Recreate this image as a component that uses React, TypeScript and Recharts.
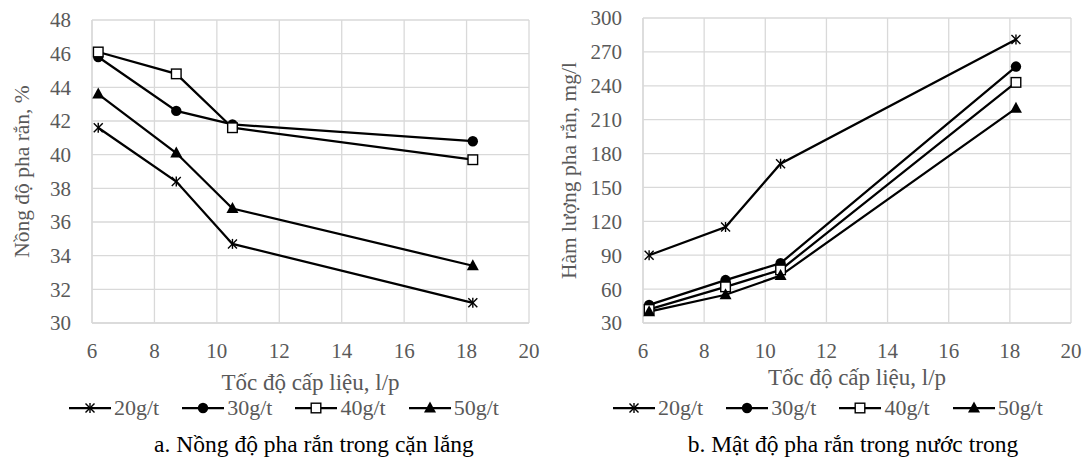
import { LineChart, Line, XAxis, YAxis, CartesianGrid, Legend, Label } from "recharts";

const SERIES = ["20g/t", "30g/t", "40g/t", "50g/t"];
const MARKERS = ["star", "circle", "square", "triangle"];
const X_TICKS = [6, 8, 10, 12, 14, 16, 18, 20];

// a. concentration of solids in the sediment, %
const FEED_A = [6.2, 8.7, 10.5, 18.2];
const CONC_20 = [41.6, 38.4, 34.7, 31.2];
const CONC_30 = [45.8, 42.6, 41.8, 40.8];
const CONC_40 = [46.1, 44.8, 41.6, 39.7];
const CONC_50 = [43.6, 40.1, 36.8, 33.4];
const CONC_TICKS = [30, 32, 34, 36, 38, 40, 42, 44, 46, 48];

// b. solids content in the clear water, mg/l
const FEED_B = [6.2, 8.7, 10.5, 18.2];
const SOLID_20 = [90, 115, 171, 281];
const SOLID_30 = [46, 68, 83, 257];
const SOLID_40 = [42, 62, 77, 243];
const SOLID_50 = [40, 55, 72, 220];
const SOLID_TICKS = [30, 60, 90, 120, 150, 180, 210, 240, 270, 300];

const FONT = "'Liberation Serif', 'Times New Roman', serif";
const GREY = "#595959";
const TICK_STYLE = { fill: GREY, fontSize: 21, fontFamily: FONT };

function toRows(xs: number[], series: number[][]) {
  return xs.map((x, i) => {
    const row: Record<string, number> = { x };
    series.forEach((vals, j) => {
      row[SERIES[j]] = vals[i];
    });
    return row;
  });
}

const dataA = toRows(FEED_A, [CONC_20, CONC_30, CONC_40, CONC_50]);
const dataB = toRows(FEED_B, [SOLID_20, SOLID_30, SOLID_40, SOLID_50]);

function Marker({ kind, cx, cy }: { kind: string; cx: number; cy: number }) {
  if (kind === "star") {
    return (
      <g stroke="#000" strokeWidth={1.4}>
        <line x1={cx - 4.5} y1={cy - 4.5} x2={cx + 4.5} y2={cy + 4.5} />
        <line x1={cx - 4.5} y1={cy + 4.5} x2={cx + 4.5} y2={cy - 4.5} />
        <line x1={cx} y1={cy - 5} x2={cx} y2={cy + 5} />
      </g>
    );
  }
  if (kind === "circle") return <circle cx={cx} cy={cy} r={5.2} fill="#000" />;
  if (kind === "square")
    return <rect x={cx - 4.8} y={cy - 4.8} width={9.6} height={9.6} fill="#fff" stroke="#000" strokeWidth={1.4} />;
  return <polygon points={`${cx},${cy - 6.5} ${cx + 6},${cy + 4.5} ${cx - 6},${cy + 4.5}`} fill="#000" />;
}

function LegendRow() {
  return (
    <div style={{ display: "flex", gap: 22, fontFamily: FONT, fontSize: 22, color: GREY, whiteSpace: "nowrap", lineHeight: "24px" }}>
      {SERIES.map((name, i) => (
        <div key={name} style={{ display: "flex", alignItems: "center" }}>
          <svg width={44} height={14}>
            <line x1={1} y1={7} x2={43} y2={7} stroke="#000" strokeWidth={2.25} />
            <Marker kind={MARKERS[i]} cx={22} cy={7} />
          </svg>
          <span style={{ marginLeft: 2 }}>{name}</span>
        </div>
      ))}
    </div>
  );
}

type PanelProps = {
  data: Record<string, number>[];
  yDomain: [number, number];
  yTicks: number[];
  yTitle: string;
  yTitleX: number;
  xTitleOffset: number;
  caption: string;
  plotLeft: number;
  plotRight: number;
  plotTop: number;
  legendLeft: number;
  captionCenter: number;
};

const W = 544;
const H = 462;
const PLOT_BOTTOM = 323;
const XAXIS_H = 70;

function Panel(p: PanelProps) {
  return (
    <div style={{ position: "relative", width: W, height: H, fontFamily: FONT }}>
      <LineChart
        width={W}
        height={H}
        data={p.data}
        style={{ fontFamily: FONT }}
        margin={{ top: p.plotTop, right: W - p.plotRight, left: 0, bottom: H - PLOT_BOTTOM - XAXIS_H }}
      >
        <CartesianGrid stroke="#d9d9d9" strokeWidth={1.3} horizontal vertical />
        <XAxis
          dataKey="x"
          type="number"
          domain={[6, 20]}
          ticks={X_TICKS}
          height={XAXIS_H}
          axisLine={{ stroke: "#d9d9d9", strokeWidth: 1.3 }}
          tickLine={false}
          tickSize={0}
          tickMargin={20}
          tick={TICK_STYLE}
          style={{ fontFamily: FONT }}
        >
          <Label
            value="Tốc độ cấp liệu, l/p"
            position="insideTop"
            offset={p.xTitleOffset}
            style={{ fill: GREY, fontSize: 23, fontFamily: FONT }}
          />
        </XAxis>
        <YAxis
          type="number"
          domain={p.yDomain}
          ticks={p.yTicks}
          width={p.plotLeft}
          axisLine={{ stroke: "#d9d9d9", strokeWidth: 1.3 }}
          tickLine={false}
          tickSize={0}
          tickMargin={21}
          interval={0}
          tick={TICK_STYLE}
          style={{ fontFamily: FONT }}
        >
          <Label
            content={(props: any) => {
              const vb = props.viewBox || {};
              const cy = vb.y + vb.height / 2;
              return (
                <text
                  x={p.yTitleX}
                  y={cy}
                  transform={`rotate(-90, ${p.yTitleX}, ${cy})`}
                  textAnchor="middle"
                  dominantBaseline="central"
                  fill={GREY}
                  fontSize={21.5}
                  style={{ fontFamily: FONT }}
                >
                  {p.yTitle}
                </text>
              );
            }}
          />
        </YAxis>
        <Legend
          verticalAlign="middle"
          align="center"
          layout="horizontal"
          wrapperStyle={{ top: 396, left: p.legendLeft, width: "auto" }}
          content={() => <LegendRow />}
        />
        {SERIES.map((name, i) => (
          <Line
            key={name}
            dataKey={name}
            stroke="#000"
            strokeWidth={2.25}
            isAnimationActive={false}
            dot={(d: any) => <Marker key={`${name}-${d.index}`} kind={MARKERS[i]} cx={d.cx} cy={d.cy} />}
            activeDot={false}
          />
        ))}
      </LineChart>
      <div
        style={{
          position: "absolute",
          top: 430,
          left: p.captionCenter - 250,
          width: 500,
          textAlign: "center",
          fontFamily: FONT,
          fontSize: 23.5,
          lineHeight: "29px",
          color: "#000",
          whiteSpace: "nowrap",
        }}
      >
        {p.caption}
      </div>
    </div>
  );
}

export default function App() {
  return (
    <div style={{ position: "absolute", left: 0, top: 0, width: 1088, height: 462, background: "#fff", display: "flex", fontFamily: FONT }}>
      <Panel
        data={dataA}
        yDomain={[30, 48]}
        yTicks={CONC_TICKS}
        yTitle="Nồng độ pha rắn, %"
        yTitleX={22}
        xTitleOffset={51}
        caption="a. Nồng độ pha rắn trong cặn lắng"
        plotLeft={92}
        plotRight={529}
        plotTop={20}
        legendLeft={68}
        captionCenter={314}
      />
      <Panel
        data={dataB}
        yDomain={[30, 300]}
        yTicks={SOLID_TICKS}
        yTitle="Hàm lượng pha rắn, mg/l"
        yTitleX={25}
        xTitleOffset={46}
        caption="b. Mật độ pha rắn trong nước trong"
        plotLeft={99}
        plotRight={527}
        plotTop={18}
        legendLeft={68}
        captionCenter={309}
      />
    </div>
  );
}
